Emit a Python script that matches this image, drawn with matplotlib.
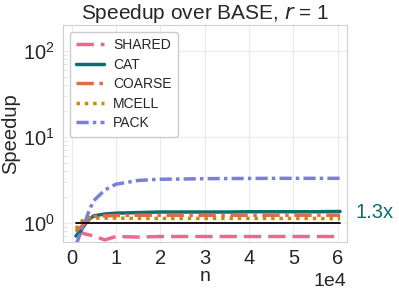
import numpy as np
import seaborn as sns
import matplotlib
matplotlib.use("Agg")
import matplotlib.pyplot as plt
from matplotlib.ticker import LogLocator

# problem sizes and speedups over BASE (r = 1)
n = [1000, 2000, 3000, 4000, 5000, 7500, 10000, 15000, 20000, 25000, 30000,
     35000, 40000, 45000, 50000, 55000, 60500]
shared = [0.82, 0.78, 0.74, 0.72, 0.70, 0.63, 0.69, 0.68, 0.69, 0.69, 0.69,
          0.69, 0.69, 0.69, 0.69, 0.69, 0.69]
cat = [0.70, 0.80, 0.95, 1.10, 1.20, 1.26, 1.29, 1.31, 1.33, 1.33, 1.33,
       1.33, 1.34, 1.34, 1.34, 1.34, 1.35]
coarse = [0.80, 0.88, 0.98, 1.10, 1.18, 1.20, 1.21, 1.22, 1.22, 1.22, 1.22,
          1.22, 1.22, 1.22, 1.22, 1.22, 1.22]
mcell = [0.85, 1.00, 1.12, 1.14, 1.13, 1.13, 1.13, 1.12, 1.12, 1.12, 1.12,
         1.12, 1.12, 1.12, 1.12, 1.12, 1.11]
pack = [0.55, 0.75, 1.00, 1.40, 1.80, 2.40, 2.80, 3.10, 3.20, 3.22, 3.25,
        3.26, 3.27, 3.28, 3.28, 3.28, 3.28]

series = [("SHARED", shared, "#ea6a8c", (0, (5, 2))),
          ("CAT", cat, "#0b6e6e", "-"),
          ("COARSE", coarse, "#e3694b", (0, (5, 1.6, 1, 1.6))),
          ("MCELL", mcell, "#c98a0a", (0, (1, 1.4))),
          ("PACK", pack, "#7a7fd8", (0, (3.5, 1.2, 1, 1.2)))]

sns.set_style("whitegrid")
plt.rcParams['font.family'] = ['Arial', 'Liberation Sans', 'DejaVu Sans']

fig = plt.figure(figsize=(3.99, 2.93), dpi=100)
ax = fig.add_axes([0.157, 0.175, 0.712, 0.74])

for name, vals, color, ls in series:
    ax.plot(n, vals, color=color, linestyle=ls, lw=2.5, label=name)
ax.plot([n[0], n[-1]], [1, 1], color="black", lw=1.3)

ax.set_yscale("log")
ax.set_ylim(0.6, 200)
ax.set_xlim(-2000, 62000)
ax.yaxis.set_minor_locator(LogLocator(base=10, subs=np.arange(2, 10)))
ax.tick_params(axis="y", which="minor", left=True, direction="in",
               length=3, width=0.6, color="#dddddd")
ax.ticklabel_format(axis="x", style="sci", scilimits=(0, 0))
ax.xaxis.get_offset_text().set_fontsize(14)
ax.tick_params(axis="both", which="major", labelsize=14.5, pad=2)
ax.set_xticks([0, 10000, 20000, 30000, 40000, 50000, 60000])
ax.set_xlabel("n", fontsize=14, labelpad=0)
ax.set_ylabel("Speedup", fontsize=14.5, labelpad=2)
ax.set_title("Speedup over BASE, $r$ = 1", fontsize=15, pad=4)
ax.grid(True, which="major", color="#ebebeb", lw=0.9)
for s in ax.spines.values():
    s.set_color("#d0d0d0")

ax.legend(loc="upper left", fontsize=10, handlelength=2.0, handletextpad=0.7,
          framealpha=1, borderpad=0.45, labelspacing=0.4,
          bbox_to_anchor=(0.0, 1.0))
ax.text(1.03, 1.33, "1.3x", color="#0b6e6e", fontsize=14.5, va="center",
        transform=ax.get_yaxis_transform())

fig.savefig("out.png", dpi=100)
